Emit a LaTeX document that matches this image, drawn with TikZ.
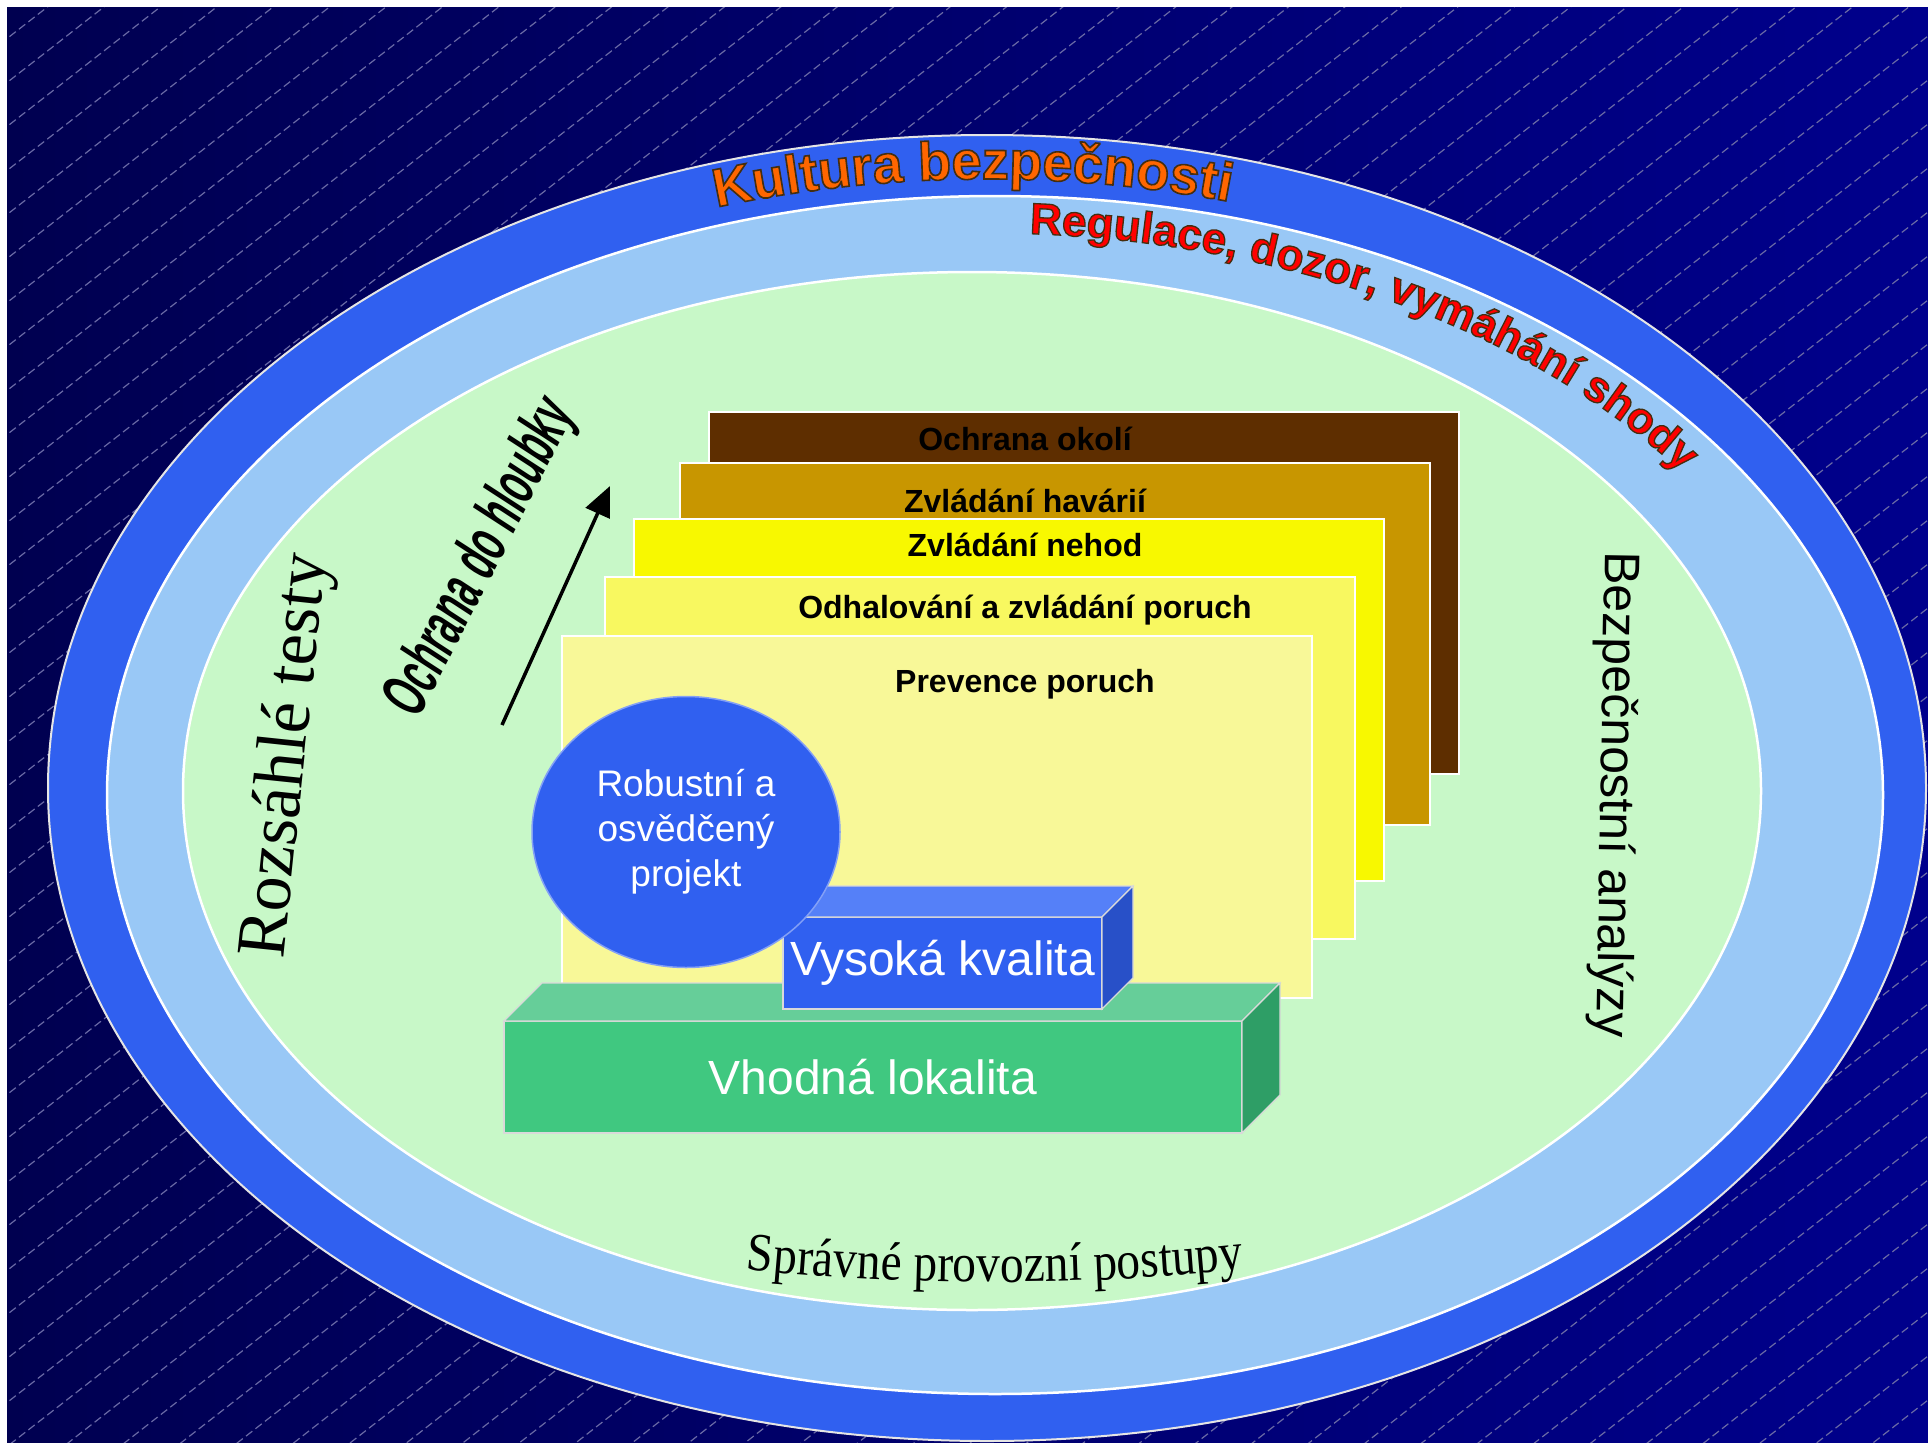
\documentclass[tikz,border=0pt]{standalone}
\usepackage{fontspec}
\setmainfont{Liberation Sans}
\newfontfamily\seriffam{Liberation Serif}
\newfontfamily\postupyfam{Liberation Serif}[FakeStretch=0.88]
\newfontfamily\hloubkafam{Liberation Sans}[FakeStretch=0.54]
\newfontfamily\wordartfam{Liberation Sans Bold}[FakeBold=3]
\usetikzlibrary{shapes.geometric,arrows.meta,decorations.text}

\definecolor{navyL}{RGB}{0,0,80}
\definecolor{navyR}{RGB}{0,0,140}
\definecolor{hatchgray}{RGB}{105,105,165}
\definecolor{ringblue}{RGB}{48,96,240}
\definecolor{ringlight}{RGB}{153,200,246}
\definecolor{ringgreen}{RGB}{200,248,200}
\definecolor{okoli}{RGB}{94,46,0}
\definecolor{havarie}{RGB}{200,150,0}
\definecolor{nehody}{RGB}{248,248,0}
\definecolor{poruchy}{RGB}{248,248,96}
\definecolor{prevence}{RGB}{248,248,152}
\definecolor{boxgreen}{RGB}{64,200,128}
\definecolor{boxgreentop}{RGB}{102,206,153}
\definecolor{boxgreenside}{RGB}{46,158,102}
\definecolor{boxbluetop}{RGB}{85,128,248}
\definecolor{boxblueside}{RGB}{40,80,200}
\definecolor{kulturaorange}{RGB}{255,102,0}

% dark rim round the curved titles
\newcommand{\darkrim}{\special{pdf:literal direct 0.27 0.18 0.06 RG}}
\newcommand{\kulturafont}{\wordartfam\fontsize{54}{60}\selectfont}
\newcommand{\regfont}{\wordartfam\fontsize{44}{52}\selectfont}

\begin{document}
\begin{tikzpicture}[x=1pt, y=-1pt,
  hatch/.style={hatchgray, line width=1.2pt, dash pattern=on 8pt off 4pt},
  ring/.style={draw=white, line width=2.5pt},
  card/.style={draw=white, line width=2pt, minimum width=750pt,
    minimum height=362pt, anchor=north west, inner sep=0pt, outer sep=0pt},
  cardlabel/.style={font=\bfseries\fontsize{32}{38}\selectfont,
    anchor=base, inner sep=0pt},
  front/.style={draw=white!70!gray, line width=1.2pt, anchor=north west,
    inner sep=0pt, outer sep=0pt, text=white,
    font=\fontsize{48}{56}\selectfont},
  face/.style={draw=white!70!gray, line width=1.2pt},
  wordart/.style 2 args={decorate, decoration={text along path,
    text align=center, text={|#1|#2}}}]
  \useasboundingbox (0,0) rectangle (1928,1443);
  \fill[white] (0,0) rectangle (1928,1443);
  \shade[left color=navyL, right color=navyR] (7,7) rectangle (1928,1443);
  \begin{scope}
    \clip (7,7) rectangle (1928,1443);
    \foreach \hy in {0,44,...,3000}
      \draw[hatch] (0,\hy) -- (1928,\hy-1504);
  \end{scope}

  % rings
  \path[fill=ringblue, draw=white!80!gray, line width=2pt]
    (987,788) ellipse [x radius=939, y radius=653];
  \path[fill=ringlight, ring] (995,795) ellipse [x radius=888, y radius=599];
  \path[fill=ringgreen, ring] (972,791) ellipse [x radius=789, y radius=519];

  % curved titles
  \path[wordart={\kulturafont\color{kulturaorange}\darkrim}{Kultura bezpečnosti}]
    (987,788) ++(236:897 and 609)
    arc[start angle=236, end angle=302, x radius=897, y radius=609];
  \path[wordart={\regfont\color{red}\darkrim}{Regulace, dozor, vymáhání shody},
    decoration={text align=left}]
    (985,793) ++(273:850 and 560)
    arc[start angle=273, end angle=345, x radius=850, y radius=560];
  \path[wordart={\postupyfam\fontsize{54}{60}\selectfont}{Správné provozní postupy}]
    (995,882) ++(108:1000 and 400)
    arc[start angle=108, end angle=72, x radius=1000, y radius=400];

  % layers
  \node[card, fill=okoli] (okoli) at (709,412) {};
  \node[card, fill=havarie] (havarie) at (680,463) {};
  \node[card, fill=nehody] (nehody) at (634,519) {};
  \node[card, fill=poruchy] (poruchy) at (605,577) {};
  \node[card, fill=prevence] (prevence) at (562,636) {};
  \node[cardlabel] (okolitext) at (1025,450) {Ochrana okolí};
  \node[cardlabel] (havarietext) at (1025,512) {Zvládání havárií};
  \node[cardlabel] (nehodytext) at (1025,556) {Zvládání nehod};
  \node[cardlabel] (poruchytext) at (1025,618) {Odhalování a zvládání poruch};
  \node[cardlabel] (prevencetext) at (1025,692) {Prevence poruch};

  % side texts
  \node[rotate=84, font=\seriffam\fontsize{70}{80}\selectfont]
    (testy) at (288,756) {Rozsáhlé testy};
  \node[rotate=63, font=\hloubkafam\bfseries\itshape\fontsize{66}{76}\selectfont]
    (hloubka) at (482,558) {Ochrana do hloubky};
  \coordinate (arrowtail) at (502,725);
  \coordinate (arrowtip) at (610,486);
  \draw[-{Triangle[length=30pt,width=26pt]}, line width=3.5pt]
    (arrowtail) -- (arrowtip);
  \node[rotate=-91, font=\fontsize{50}{60}\selectfont]
    (analyzy) at (1614,795) {Bezpečnostní analýzy};

  % blocks
  \node[front, fill=boxgreen, minimum width=738pt, minimum height=112pt]
    (lokalita) at (504,1021) {Vhodná lokalita};
  \path[fill=boxgreentop, face] (lokalita.north west) -- ++(38,-38)
    -- ++(738,0) -- (lokalita.north east) -- cycle;
  \path[fill=boxgreenside, face] (lokalita.north east) -- ++(38,-38)
    -- ++(0,112) -- (lokalita.south east) -- cycle;
  \node[front, fill=ringblue, minimum width=319pt, minimum height=92pt]
    (kvalita) at (783,917) {Vysoká kvalita};
  \path[fill=boxbluetop, face] (kvalita.north west) -- ++(31,-31)
    -- ++(319,0) -- (kvalita.north east) -- cycle;
  \path[fill=boxblueside, face] (kvalita.north east) -- ++(31,-31)
    -- ++(0,92) -- (kvalita.south east) -- cycle;
  \node[ellipse, fill=ringblue, draw=white!40!ringblue, line width=1.5pt,
    minimum width=308pt, minimum height=271pt, inner sep=0pt, align=center,
    text=white, font=\fontsize{37}{45}\selectfont]
    (projekt) at (686,832) {Robustní a\\osvědčený\\projekt};
\end{tikzpicture}
\end{document}
